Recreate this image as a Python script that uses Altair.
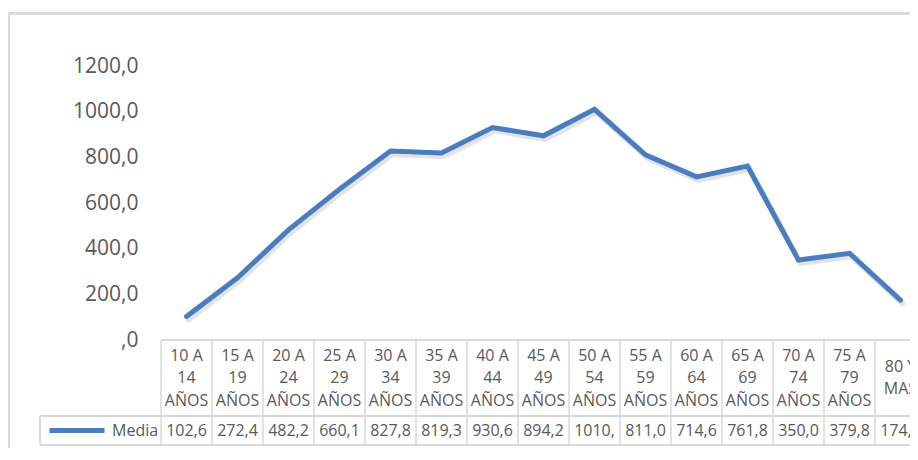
import altair as alt
import pandas as pd

categories = ["10 A 14 AÑOS", "15 A 19 AÑOS", "20 A 24 AÑOS", "25 A 29 AÑOS", "30 A 34 AÑOS",
              "35 A 39 AÑOS", "40 A 44 AÑOS", "45 A 49 AÑOS", "50 A 54 AÑOS", "55 A 59 AÑOS",
              "60 A 64 AÑOS", "65 A 69 AÑOS", "70 A 74 AÑOS", "75 A 79 AÑOS", "80 Y MAS"]
header_labels = ["10 A\n14\nAÑOS", "15 A\n19\nAÑOS", "20 A\n24\nAÑOS", "25 A\n29\nAÑOS", "30 A\n34\nAÑOS",
                 "35 A\n39\nAÑOS", "40 A\n44\nAÑOS", "45 A\n49\nAÑOS", "50 A\n54\nAÑOS", "55 A\n59\nAÑOS",
                 "60 A\n64\nAÑOS", "65 A\n69\nAÑOS", "70 A\n74\nAÑOS", "75 A\n79\nAÑOS", "80 Y\nMAS"]
media = [102.6, 272.4, 482.2, 660.1, 827.8, 819.3, 930.6, 894.2, 1010.4, 811.0,
         714.6, 761.8, 350.0, 379.8, 174.4]
series_name = "Media"
y_ticks = [0, 200, 400, 600, 800, 1000, 1200]

df = pd.DataFrame({"cat": categories, "header": header_labels, "value": media,
                   "serie": [series_name] * len(categories)})

FONT = "Open Sans"
TXT = "#595959"
GRID = "#D9D9D9"
BLUE = "#4A7DC0"
W = 749
H = 274
LH = 22.5

xscale = alt.Scale(type="band", domain=categories, range=[0, 765], paddingInner=0, paddingOuter=0)

def xenc(bp):
    return alt.X("cat:N", scale=xscale, axis=None, bandPosition=bp)

yscale = alt.Scale(domain=[0, 1200], nice=False, zero=True)

base = alt.Chart(df)

shadow = base.mark_line(strokeWidth=6, opacity=0.22, xOffset=2, yOffset=3,
                        strokeCap="round").encode(
    x=xenc(0.5),
    y=alt.Y("value:Q", scale=yscale),
    color=alt.value("#7f7f7f"),
)

line = base.mark_line(strokeWidth=5, strokeCap="round").encode(
    x=xenc(0.5),
    y=alt.Y("value:Q", scale=yscale,
            axis=alt.Axis(values=y_ticks, title=None, domain=False, ticks=False, grid=False,
                          labelExpr="datum.value == 0 ? ',0' : replace(format(datum.value, '.1f'), '.', ',')",
                          labelFontSize=21, labelColor=TXT, labelFont=FONT, labelPadding=23)),
    color=alt.Color("serie:N", scale=alt.Scale(domain=[series_name], range=[BLUE]),
                    legend=alt.Legend(title=None, orient="none", legendX=-114, legendY=334.5,
                                      symbolType="stroke", symbolSize=3025, symbolStrokeWidth=5,
                                      labelFontSize=16, labelColor=TXT, labelFont=FONT,
                                      labelOffset=5, padding=0)),
)

# table vertical separators
vsep = base.mark_rule(color=GRID, strokeWidth=1.5).encode(
    x=xenc(0),
    y=alt.value(H),
    y2=alt.value(379),
)

hdr_line = base.mark_rule(color=GRID, strokeWidth=1.5).encode(
    x=alt.value(0), x2=alt.value(W), y=alt.value(H))
row_line = base.mark_rule(color=GRID, strokeWidth=1.5).encode(
    x=alt.value(-121), x2=alt.value(W), y=alt.value(350))
bot_line = base.mark_rule(color=GRID, strokeWidth=1.5).encode(
    x=alt.value(-121), x2=alt.value(W), y=alt.value(379))
leg_left = base.mark_rule(color=GRID, strokeWidth=1.5).encode(
    x=alt.value(-121), y=alt.value(350), y2=alt.value(379))

# outer chart border
border_top = base.mark_rule(color=GRID, strokeWidth=1.5).encode(
    x=alt.value(-153), x2=alt.value(W), y=alt.value(-52.5))
border_left = base.mark_rule(color=GRID, strokeWidth=1.5).encode(
    x=alt.value(-152.5), y=alt.value(-52.5), y2=alt.value(400))

hdr_center = 312  # vertical centre of the header row (view coords)

def header_layer(n):
    return base.transform_calculate(
        nlines="length(split(datum.header, '\\n'))"
    ).transform_filter(
        f"datum.nlines == {n}"
    ).mark_text(lineBreak="\n", lineHeight=LH, fontSize=16, font=FONT, color=TXT,
                baseline="middle", align="center").encode(
        x=xenc(0.5),
        y=alt.value(hdr_center - (n - 1) * LH / 2),
        text="header:N",
    )

headers3 = header_layer(3)
headers2 = header_layer(2)

vals = base.transform_calculate(
    lbl="substring(replace(format(datum.value, '.1f'), '.', ','), 0, 5)"
).mark_text(fontSize=16, font=FONT, color=TXT, baseline="middle", align="center").encode(
    x=xenc(0.5),
    y=alt.value(365),
    text="lbl:N",
)

chart = alt.layer(
    border_top, border_left, hdr_line, row_line, bot_line, leg_left, vsep,
    headers3, headers2, vals, shadow, line
).properties(
    width=W, height=H,
    autosize=alt.AutoSizeParams(type="none"),
    padding={"left": 153, "top": 58, "right": 0, "bottom": 108},
    background="white",
).configure_view(stroke=None)

chart.save("out.html", embed_options={"renderer": "svg", "actions": False})
